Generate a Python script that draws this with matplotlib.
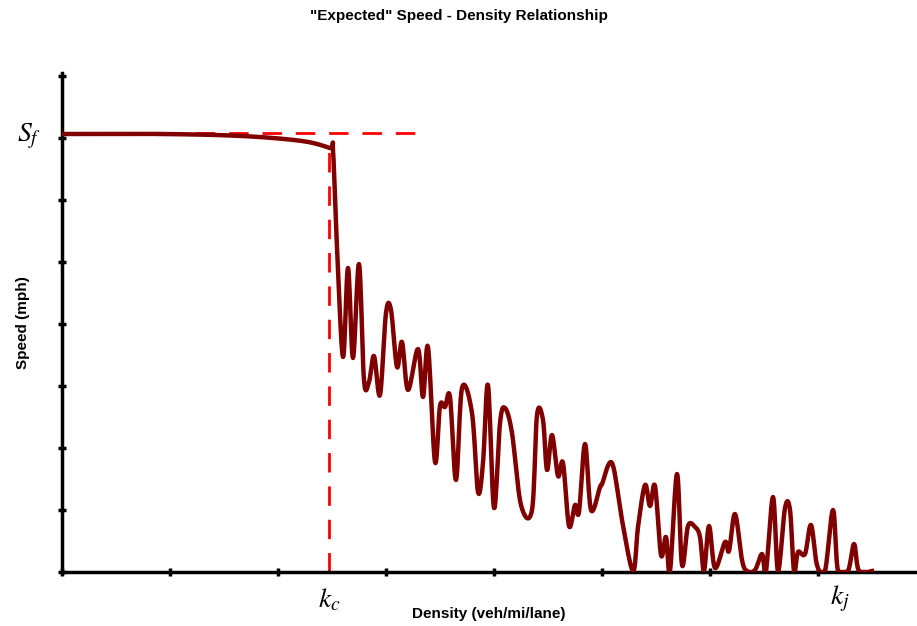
import matplotlib
matplotlib.use("Agg")
import matplotlib.pyplot as plt
import numpy as np

plt.rcParams['mathtext.fontset'] = 'stix'

density = [0,100,180,240,268,271,275,281,286,291,297,302,307,312,318,324,329,335,340,346,356,
           361,366,373,378,383,388,394,400,410,416,421,426,432,438,443,450,459,470,475,481,
           485,490,496,501,507,513,517,523,529,538,540,550,560,571,576,583,588,593,599,604,
           608,615,620,626,633,638,642,647,653,663,667,673,680,685,693,700,704,711,716,723,
           728,732,736,743,749,755,763,771,776,786,792,797,810]
speed = [438,438,436,431,424,422,325,215,304,214,308,192,190,216,177,259,262,205,230,182,223,
         175,225,110,166,165,175,92,184,159,80,109,187,64,149,164,139,67,62,157,152,
         102,137,96,109,46,67,60,128,62,85,88,109,52,1,45,87,66,86,17,35,
         1,98,7,46,45,35,1,46,4,30,21,58,12,1,2,18,1,75,1,64,
         62,1,20,18,47,7,1,62,1,1,28,1,1]
free_speed = 439
k_c = 267
k_j = 778


def catmull_rom(x, y, n=12):
    x = np.asarray(x, float); y = np.asarray(y, float)
    P = np.column_stack([x, y])
    P = np.vstack([P[0], P, P[-1]])
    out = []
    t = np.linspace(0, 1, n, endpoint=False)
    for i in range(1, len(P) - 2):
        p0, p1, p2, p3 = P[i-1], P[i], P[i+1], P[i+2]
        tt = t[:, None]
        pts = 0.5 * ((2*p1) + (-p0 + p2)*tt + (2*p0 - 5*p1 + 4*p2 - p3)*tt**2
                     + (-p0 + 3*p1 - 3*p2 + p3)*tt**3)
        out.append(pts)
    out.append(P[-2][None, :])
    out = np.vstack(out)
    return out[:, 0], np.clip(out[:, 1], 0, None)


fig = plt.figure(figsize=(9.17, 6.26), dpi=100)
ax = fig.add_axes([62/917, 54/626, 853/917, 499/626])
sx, sy = catmull_rom(density, speed)
ax.plot(sx, sy, color='#800000', lw=3.2, solid_joinstyle='round', zorder=3)
ax.plot([0, 365], [free_speed, free_speed], color='red', lw=2, dashes=(7, 5), zorder=2)
ax.plot([k_c, k_c], [0, 422], color='red', lw=2, dashes=(7, 5), zorder=2)
ax.set_xlim(0, 853)
ax.set_ylim(0, 499)
for s in ['top', 'right']:
    ax.spines[s].set_visible(False)
for s in ['left', 'bottom']:
    ax.spines[s].set_linewidth(2.5)
ax.set_xticks(np.arange(0, 800, 108))
ax.set_yticks(np.arange(0, 499, 62))
ax.tick_params(direction='inout', length=6, width=2.5, labelbottom=False, labelleft=False)
ax.set_xlabel('Density (veh/mi/lane)', fontsize=11, fontweight='bold', family='Liberation Sans', labelpad=22)
ax.set_ylabel('Speed (mph)', fontsize=11, fontweight='bold', family='Liberation Sans', labelpad=20)
fig.text(0.5, 0.985, '"Expected" Speed - Density Relationship', ha='center', va='top',
         fontsize=11, fontweight='bold', family='Liberation Sans')
ax.text(-33, free_speed - 3, r'$S_f$', ha='center', va='center', fontsize=20)
ax.text(k_c, -27, r'$k_c$', ha='center', va='center', fontsize=20)
ax.text(k_j, -27, r'$k_j$', ha='center', va='center', fontsize=20)
fig.savefig('out.png', dpi=100)
